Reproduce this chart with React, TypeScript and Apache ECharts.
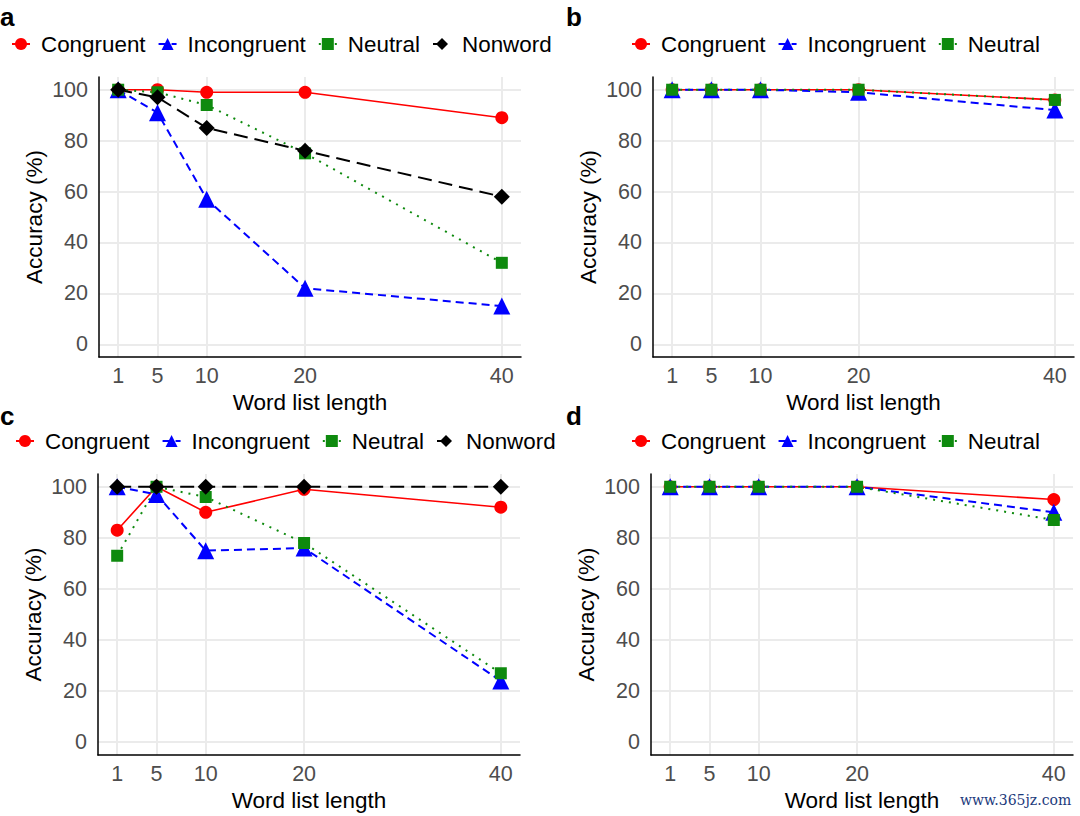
import React, { useEffect, useRef } from "react";
import * as echarts from "echarts";

const lengths = [1, 5, 10, 20, 40];
const yTicks = [0, 20, 40, 60, 80, 100];

const aCongruent = [100, 100, 99, 99, 89];
const aIncongruent = [100, 91, 57, 22, 15];
const aNeutral = [100, 99, 94, 75, 32];
const aNonword = [100, 97, 85, 76, 58];

const bCongruent = [100, 100, 100, 100, 96];
const bIncongruent = [100, 100, 100, 99, 92];
const bNeutral = [100, 100, 100, 100, 96];

const cCongruent = [83, 100, 90, 99, 92];
const cIncongruent = [100, 97, 75, 76, 24];
const cNeutral = [73, 100, 96, 78, 27];
const cNonword = [100, 100, 100, 100, 100];

const dCongruent = [100, 100, 100, 100, 95];
const dIncongruent = [100, 100, 100, 100, 90];
const dNeutral = [100, 100, 100, 100, 87];

const panelLabels = ["a", "b", "c", "d"];
const xTitle = "Word list length";
const yTitle = "Accuracy (%)";
const watermark = "www.365jz.com";

const FONT = "'Liberation Sans', Arial, Helvetica, sans-serif";

const styles: Record<string, any> = {
  Congruent: { color: "#ff0000", symbol: "circle", size: 13, dash: "solid", width: 1.6 },
  Incongruent: { color: "#0000ff", symbol: "triangle", size: 17, dash: [8, 5], width: 2 },
  Neutral: { color: "#0e8a0e", symbol: "rect", size: 12, dash: [2, 6], width: 2 },
  Nonword: { color: "#000000", symbol: "diamond", size: 16, dash: [14, 7], width: 2 },
};

const panels = [
  { data: { Congruent: aCongruent, Incongruent: aIncongruent, Neutral: aNeutral, Nonword: aNonword } },
  { data: { Congruent: bCongruent, Incongruent: bIncongruent, Neutral: bNeutral } },
  { data: { Congruent: cCongruent, Incongruent: cIncongruent, Neutral: cNeutral, Nonword: cNonword } },
  { data: { Congruent: dCongruent, Incongruent: dIncongruent, Neutral: dNeutral } },
];

const layout = [
  { grid: { left: 99, top: 77, width: 422, height: 280 }, legend: { left: 11, top: 33 }, label: { x: 0, y: 4 } },
  { grid: { left: 653, top: 77, width: 421, height: 280 }, legend: { left: 631, top: 33 }, label: { x: 566, y: 4 } },
  { grid: { left: 98, top: 474, width: 422, height: 281 }, legend: { left: 15, top: 430 }, label: { x: 0, y: 403 } },
  { grid: { left: 651, top: 474, width: 422, height: 281 }, legend: { left: 631, top: 430 }, label: { x: 566, y: 403 } },
];

export default function App() {
  const ref = useRef<HTMLDivElement>(null);
  useEffect(() => {
    if (!ref.current) return;
    const chart = echarts.init(ref.current, undefined, { renderer: "svg" });
    const grids: any[] = [];
    const xAxes: any[] = [];
    const yAxes: any[] = [];
    const legends: any[] = [];
    const series: any[] = [];
    const graphics: any[] = [];
    panels.forEach((p, i) => {
      const L = layout[i];
      grids.push({ ...L.grid, containLabel: false });
      xAxes.push({
        gridIndex: i,
        type: "value",
        min: -0.95,
        max: 41.95,
        name: xTitle,
        nameLocation: "middle",
        nameGap: 34,
        nameTextStyle: { color: "#000", fontSize: 22.5, fontFamily: FONT },
        axisLine: { show: true, onZero: false, lineStyle: { color: "#000", width: 1.5 } },
        axisTick: { show: false, customValues: lengths },
        axisLabel: { customValues: lengths, color: "#4d4d4d", fontSize: 21.5, fontFamily: FONT, margin: 8 },
        splitLine: { show: true, lineStyle: { color: "#ebebeb", width: 2 } },
      });
      yAxes.push({
        gridIndex: i,
        type: "value",
        min: -5,
        max: 105,
        name: yTitle,
        nameLocation: "middle",
        nameGap: 53,
        nameTextStyle: { color: "#000", fontSize: 22.5, fontFamily: FONT },
        axisLine: { show: true, onZero: false, lineStyle: { color: "#000", width: 1.5 } },
        axisTick: { show: false, customValues: yTicks },
        axisLabel: { customValues: yTicks, color: "#4d4d4d", fontSize: 21.5, fontFamily: FONT, margin: 11 },
        splitLine: { show: true, lineStyle: { color: "#ebebeb", width: 2 } },
      });
      const names = Object.keys(p.data);
      legends.push({
        ...L.legend,
        orient: "horizontal",
        padding: 0,
        data: names,
        itemWidth: 18,
        itemHeight: 15,
        itemGap: 12,
        selectedMode: false,
        textStyle: { color: "#000", fontSize: 22.4, fontFamily: FONT, padding: [0, 0, 0, 6] },
      });
      names.forEach((n) => {
        const s = styles[n];
        const vals = (p.data as any)[n] as number[];
        series.push({
          type: "line",
          name: n,
          xAxisIndex: i,
          yAxisIndex: i,
          data: lengths.map((x, k) => [x, vals[k]]),
          symbol: s.symbol,
          symbolSize: s.size,
          showAllSymbol: true,
          itemStyle: { color: s.color, borderWidth: 0 },
          lineStyle: { color: s.color, type: s.dash, width: s.width },
          emphasis: { disabled: true },
        });
      });
      graphics.push({
        type: "text",
        x: L.label.x,
        y: L.label.y,
        style: { text: panelLabels[i], font: `bold 26px ${FONT}`, fill: "#000" },
      });
    });
    graphics.push({
      type: "text",
      x: 960,
      y: 793,
      style: { text: watermark, font: `14px 'DejaVu Serif', 'Liberation Serif', serif`, fill: "#1c3a7c" },
    });
    chart.setOption({
      animation: false,
      backgroundColor: "#ffffff",
      grid: grids,
      xAxis: xAxes,
      yAxis: yAxes,
      legend: legends,
      series,
      graphic: graphics,
    });
    return () => chart.dispose();
  }, []);
  return <div ref={ref} style={{ position: "absolute", left: 0, top: 0, width: 1080, height: 816 }} />;
}
